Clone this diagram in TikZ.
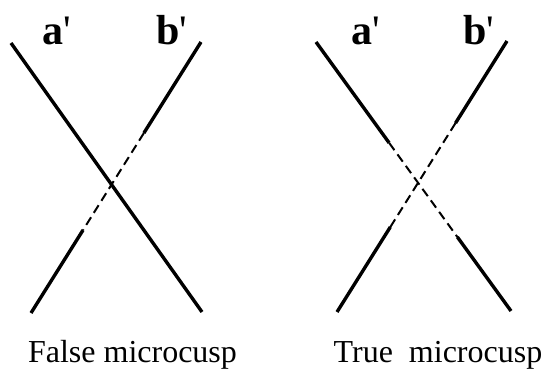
\documentclass[tikz,border=0pt]{standalone}
\usepackage{fontspec}
\setmainfont{Liberation Serif}
\usetikzlibrary{calc}

\begin{document}
\begin{tikzpicture}[x=0.5pt,y=-0.5pt,
    branch/.style={line width=1.7pt,line cap=butt},
    hidden/.style={line width=1pt,dash pattern=on 4.5pt off 2.6pt},
    lbl/.style={anchor=base,inner sep=0pt,font=\fontsize{21}{23}\selectfont\bfseries},
    captext/.style={anchor=base,inner sep=0pt,font=\fontsize{16}{18}\selectfont}]
  \useasboundingbox (0,0) rectangle (549,368);
  % false microcusp
  \coordinate (aL1) at (11,43);  \coordinate (aL2) at (202,312);
  \coordinate (bL1) at (201,42); \coordinate (bL2) at (31,313);
  \draw[branch] (aL1)--(aL2);
  \draw[branch] (bL1)--($(bL1)!0.336!(bL2)$) coordinate (bL3);
  \draw[hidden] (bL3)--($(bL1)!0.694!(bL2)$) coordinate (bL4);
  \draw[branch] (bL4)--(bL2);
  \node[lbl] (aLname) at (57,45) {a{\mdseries\textquotesingle}};
  \node[lbl] (bLname) at (172,45) {b{\mdseries\textquotesingle}};
  \node[captext] (falsecap) at (132.5,362) {False microcusp};
  % true microcusp
  \coordinate (aR1) at (316,42); \coordinate (aR2) at (511,311);
  \coordinate (bR1) at (507,41); \coordinate (bR2) at (337,312);
  \draw[branch] (aR1)--($(aR1)!0.375!(aR2)$) coordinate (aR3);
  \draw[hidden] (aR3)--($(aR1)!0.725!(aR2)$) coordinate (aR4);
  \draw[branch] (aR4)--(aR2);
  \draw[branch] (bR1)--($(bR1)!0.303!(bR2)$) coordinate (bR3);
  \draw[hidden] (bR3)--($(bR1)!0.686!(bR2)$) coordinate (bR4);
  \draw[branch] (bR4)--(bR2);
  \node[lbl] (aRname) at (366,45) {a{\mdseries\textquotesingle}};
  \node[lbl] (bRname) at (479,45) {b{\mdseries\textquotesingle}};
  \node[captext] (truecap) at (438,362) {True\ \ microcusp};
\end{tikzpicture}
\end{document}
